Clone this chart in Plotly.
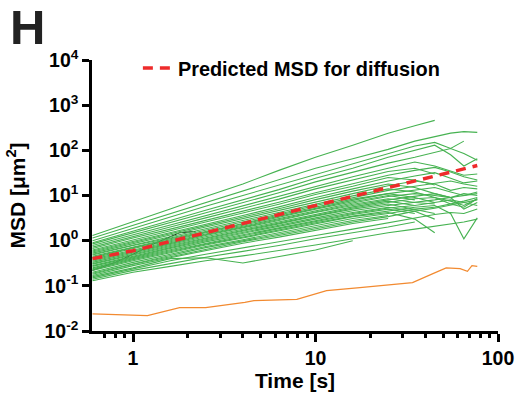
import plotly.graph_objects as go

# common time grid (s)
T = [0.6, 1, 1.6, 2.5, 4, 6.3, 10, 16, 25, 35, 45, 55, 65, 77]

# green MSD tracks (um^2), values at T (shorter lists end earlier)
tracks = [
    [1.3, 2.6, 5, 9.5, 18, 36, 70, 130, 240, 350, 460],
    [1.15, 2.2, 4.0, 7.0, 12.5, 22, 40, 65, 105, 160, 200, 240, 260, 250],
    [1.0, 1.9, 3.4, 5.8, 10, 17, 30, 50, 85, 125, 150, 110, 160],
    [0.9, 1.6, 2.8, 4.7, 8, 13.5, 24, 40, 70, 100, 130, 80, 45, 65],
    [0.85, 1.5, 2.6, 4.2, 7, 11.5, 20, 33, 52, 70, 90, 110, 85, 60],
    [0.78, 1.35, 2.2, 3.5, 5.8, 9.5, 16, 26, 40, 55, 45, 35, 28, 30],
    [0.72, 1.25, 2.0, 3.2, 5.2, 8.3, 14, 22, 34, 40, 30],
    [0.67, 1.15, 1.8, 2.8, 4.5, 7.1, 11.5, 18, 28, 36, 42, 33, 26, 22],
    [0.62, 1.05, 1.65, 2.6, 4.1, 6.4, 10.5, 16, 25, 22, 17],
    [0.59, 0.97, 1.5, 2.3, 3.6, 5.6, 9, 14, 21, 27, 32, 24, 19, 21],
    [0.56, 0.92, 1.42, 2.15, 3.3, 5.1, 8.1, 12.5, 18, 15, 11, 9],
    [0.53, 0.87, 1.33, 2.0, 3.05, 4.6, 7.2, 11, 16.5, 21, 18, 13, 15, 14],
    [0.5, 0.81, 1.22, 1.83, 2.8, 4.2, 6.5, 9.8, 14, 12, 9, 6.5, 5.5, 8.5],
    [0.48, 0.78, 1.15, 1.7, 2.6, 3.9, 6, 9, 13, 16, 19, 21, 18, 16],
    [0.45, 0.73, 1.1, 1.6, 2.4, 3.7, 5.6, 8.3, 11, 9, 7],
    [0.43, 0.7, 1.05, 1.55, 2.3, 3.5, 5.3, 7.8, 11, 13, 15, 12, 10, 12],
    [0.41, 0.67, 1.0, 1.5, 2.2, 3.3, 5, 7.3, 10, 8],
    [0.39, 0.63, 0.95, 1.4, 2.1, 3.1, 4.7, 6.8, 9.5, 11, 10, 9, 11, 10],
    [0.37, 0.6, 0.9, 1.35, 2, 2.95, 4.4, 6.4, 8.5, 7, 6.5],
    [0.35, 0.57, 0.86, 1.3, 1.9, 2.8, 4.2, 6, 8, 9.5, 11, 9, 5, 7],
    [0.33, 0.54, 0.82, 1.22, 1.8, 2.65, 3.9, 5.6, 7.5, 6],
    [0.31, 0.51, 0.78, 1.15, 1.7, 2.5, 3.7, 5.3, 7, 8.5, 9, 7.5, 6, 8.5],
    [0.3, 0.49, 0.74, 1.1, 1.6, 2.35, 3.5, 5, 6.5, 5, 4],
    [0.28, 0.46, 0.7, 1.05, 1.5, 2.2, 3.2, 4.6, 6, 7, 8, 9, 10, 11],
    [0.27, 0.44, 0.67, 1, 1.45, 2.1, 3, 4.2, 5.5, 4.5, 3],
    [0.25, 0.42, 0.63, 0.94, 1.35, 1.95, 2.8, 4, 5.3, 6, 7, 8, 7, 6],
    [0.24, 0.4, 0.6, 0.88, 1.28, 1.85, 2.65, 3.8, 5, 4],
    [0.23, 0.38, 0.57, 0.84, 1.2, 1.75, 2.5, 3.5, 4.5, 5.5, 6, 4, 1.1, 3.2],
    [0.22, 0.36, 0.54, 0.8, 1.15, 1.65, 2.4, 3.4, 4.2, 3, 1.5],
    [0.2, 0.33, 0.5, 0.74, 1.05, 1.5, 2.2, 3.1, 4, 5, 5.5, 6.5, 7.5, 9],
    [0.19, 0.31, 0.47, 0.7, 1, 1.4, 2, 2.8, 3.6],
    [0.18, 0.3, 0.44, 0.65, 0.95, 1.3, 1.85, 2.6, 3.4, 4.5, 5.2, 6, 7, 8],
    [0.17, 0.28, 0.42, 0.6, 0.88, 1.2, 1.7, 2.4, 3.1],
    [0.16, 0.25, 0.4, 0.42, 0.32, 0.45, 0.62, 1.0],
    [0.15, 0.24, 0.36, 0.5, 0.7, 0.95, 1.3, 1.8, 2.5, 3.2, 3.8, 4.2, 4, 5],
    [0.14, 0.22, 0.31, 0.43, 0.58, 0.78, 1.1, 1.5, 2, 2.6],
    [0.13, 0.2, 0.27, 0.36, 0.46, 0.6, 0.8, 1.1, 1.5, 1.8, 2.1, 2.4, 2.6, 3],
]

# black track (mostly hidden)
black_t = [0.6, 0.8, 1, 1.3, 1.8, 2.2]
black_y = [0.22, 0.33, 0.5, 0.85, 1.5, 1.6]

# orange track
orange_t = [0.6, 1.2, 1.8, 2.5, 4.1, 4.6, 7.9, 11.5, 17.5, 34, 44, 52, 62, 68, 72, 77]
orange_y = [0.024, 0.022, 0.033, 0.033, 0.043, 0.047, 0.05, 0.078, 0.091, 0.118, 0.186, 0.25, 0.24, 0.21, 0.28, 0.27]

# predicted MSD for diffusion
pred_t = [0.6, 1, 2, 5, 10, 20, 50, 77]
pred_y = [0.4, 0.6, 1.2, 3.0, 6.0, 12, 30, 46]

GREEN = "#46B251"
FAM = "Liberation Sans, Arial, sans-serif"
fig = go.Figure()
fig.add_trace(go.Scatter(x=black_t, y=black_y, mode="lines",
                         line=dict(color="black", width=1), showlegend=False))
for tr in tracks:
    fig.add_trace(go.Scatter(x=T[:len(tr)], y=tr, mode="lines",
                             line=dict(color=GREEN, width=1.1), showlegend=False))
fig.add_trace(go.Scatter(x=orange_t, y=orange_y, mode="lines",
                         line=dict(color="#F28A30", width=1.2), showlegend=False))
fig.add_trace(go.Scatter(x=pred_t, y=pred_y, mode="lines", name="Predicted MSD for diffusion",
                         line=dict(color="#EE2B2B", width=3.5, dash="10px,7px")))

fig.update_layout(
    width=517, height=394,
    margin=dict(l=92, r=19, t=60, b=63, autoexpand=False),
    paper_bgcolor="white", plot_bgcolor="white",
    font=dict(family=FAM, color="black"),
    showlegend=True,
    legend=dict(x=0.113, y=1.042, xanchor="left", yanchor="top", bgcolor="rgba(0,0,0,0)",
                font=dict(size=19.9, weight="bold", color="black", family=FAM)),
)
fig.add_annotation(text="H", xref="paper", yref="paper", x=-0.207, y=1.227,
                   xanchor="left", yanchor="top", showarrow=False,
                   font=dict(size=49, weight="bold", color="#222", family=FAM))
fig.update_xaxes(type="log", range=[-0.2247, 2.0], showgrid=False, zeroline=False,
                 automargin=False,
                 showline=True, linecolor="black", linewidth=2.5,
                 ticks="outside", ticklen=8, tickwidth=2.5, tickcolor="black",
                 tickvals=[1, 10, 100], ticktext=["1", "10", "100"],
                 tickfont=dict(size=19.5, weight="bold", color="black", family=FAM),
                 minor=dict(ticks="outside", ticklen=4, tickwidth=2.5, tickcolor="black",
                            tickvals=[0.7, 0.8, 0.9, 2, 3, 4, 5, 6, 7, 8, 9,
                                      20, 30, 40, 50, 60, 70, 80, 90], showgrid=False),
                 title=dict(text="Time [s]", standoff=6,
                            font=dict(size=21, weight="bold", color="black", family=FAM)))
fig.update_yaxes(type="log", range=[-2, 4], showgrid=False, zeroline=False,
                 automargin=False,
                 showline=True, linecolor="black", linewidth=2.5,
                 ticks="outside", ticklen=7, tickwidth=2.5, tickcolor="black",
                 tickvals=[0.01, 0.1, 1, 10, 100, 1000, 10000],
                 ticktext=["10<sup>-2</sup>", "10<sup>-1</sup>", "10<sup>0</sup>", "10<sup>1</sup>",
                           "10<sup>2</sup>", "10<sup>3</sup>", "10<sup>4</sup>"],
                 tickfont=dict(size=19.5, weight="bold", color="black", family=FAM),
                 title=dict(text="MSD [μm<sup>2</sup>]", standoff=14,
                            font=dict(size=21, weight="bold", color="black", family=FAM)))
fig.write_html("out.html", config={"displayModeBar": False},
               post_script="document.body.style.margin='0';")
